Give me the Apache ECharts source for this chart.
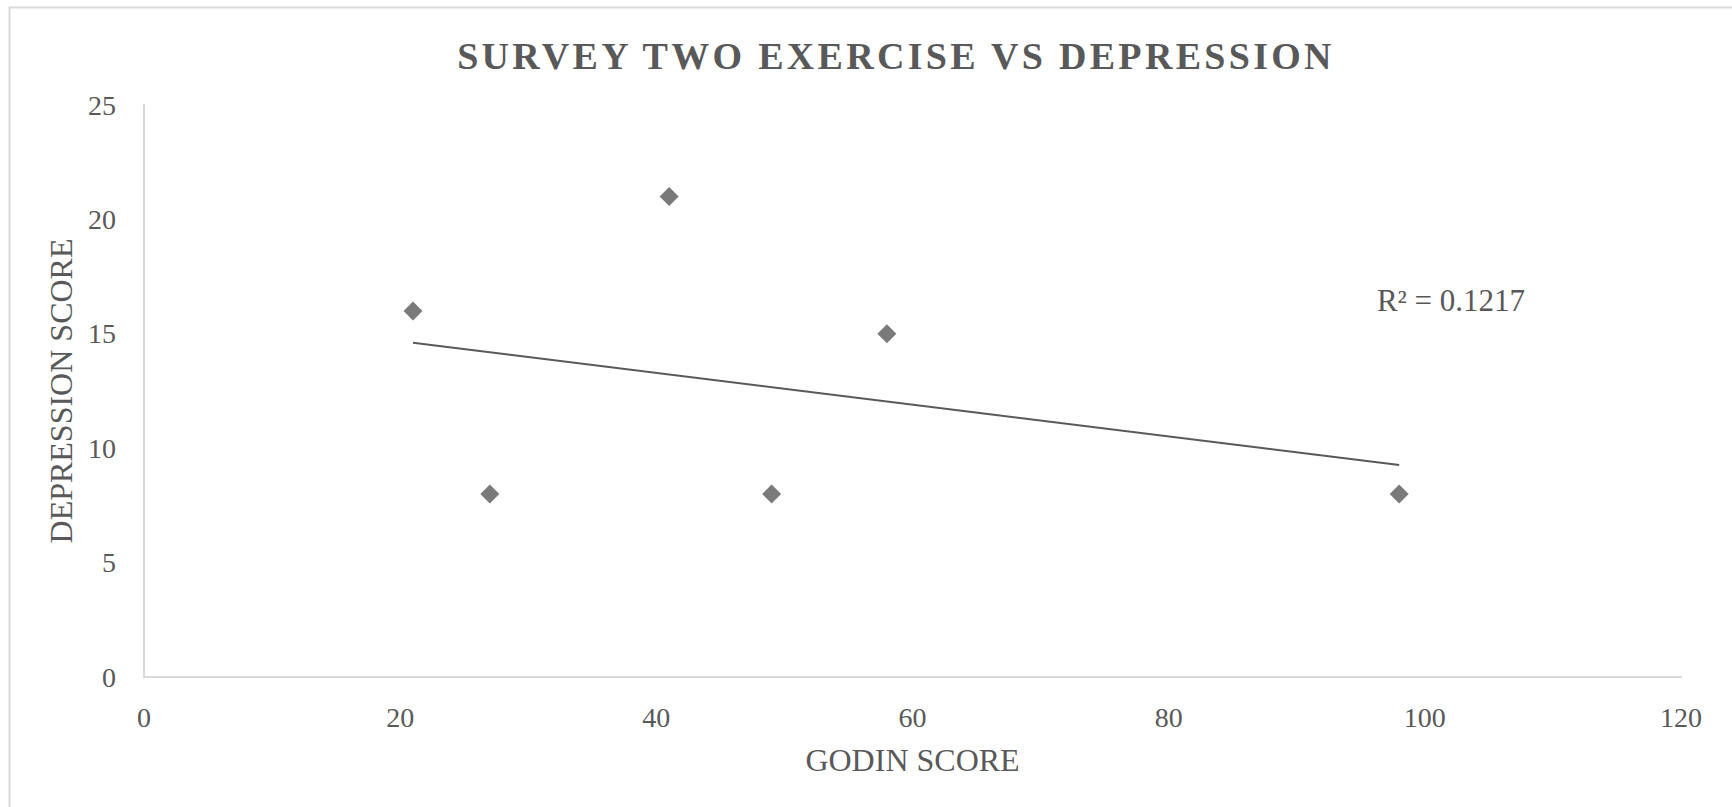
<!DOCTYPE html>
<html>
<head>
<meta charset="utf-8">
<script src="https://cdn.jsdelivr.net/npm/echarts@6/dist/echarts.min.js"></script>
<style>
  html, body { margin: 0; padding: 0; background: #ffffff; }
  #chart { width: 1732px; height: 807px; }
</style>
</head>
<body>
<div id="chart"></div>
<script>
const titleText = 'SURVEY TWO EXERCISE VS DEPRESSION';
const xAxisName = 'GODIN SCORE';
const yAxisName = 'DEPRESSION SCORE';
const godinScores = [21, 27, 41, 49, 58, 98];
const depressionScores = [16, 8, 21, 8, 15, 8];
const xTicks = { min: 0, max: 120, interval: 20 };
const yTicks = { min: 0, max: 25, interval: 5 };

// linear least-squares trendline computed from the data
const n = godinScores.length;
const mx = godinScores.reduce((a, b) => a + b, 0) / n;
const my = depressionScores.reduce((a, b) => a + b, 0) / n;
let sxx = 0, sxy = 0, syy = 0;
for (let i = 0; i < n; i++) {
  const dx = godinScores[i] - mx, dy = depressionScores[i] - my;
  sxx += dx * dx; sxy += dx * dy; syy += dy * dy;
}
const slope = sxy / sxx;
const intercept = my - slope * mx;
const r2 = (sxy * sxy) / (sxx * syy);
const xMin = Math.min(...godinScores), xMax = Math.max(...godinScores);
const trend = [[xMin, intercept + slope * xMin], [xMax, intercept + slope * xMax]];

const scatterData = godinScores.map((x, i) => [x, depressionScores[i]]);
const txt = '#595959';
const font = '"Liberation Serif", "Times New Roman", serif';

const chart = echarts.init(document.getElementById('chart'), null, { renderer: 'svg' });
chart.setOption({
  backgroundColor: '#ffffff',
  animation: false,
  title: {
    text: titleText,
    left: 891, top: 32, textAlign: 'center',
    textStyle: { fontFamily: font, fontSize: 38, fontWeight: 'bold', color: txt }
  },
  grid: { left: 144, right: 51, top: 105, bottom: 130 },
  xAxis: {
    type: 'value', min: xTicks.min, max: xTicks.max, interval: xTicks.interval,
    name: xAxisName, nameLocation: 'middle', nameGap: 67,
    nameTextStyle: { fontFamily: font, fontSize: 32, color: txt },
    axisLine: { show: true, lineStyle: { color: '#d9d9d9', width: 2 } },
    axisTick: { show: false },
    splitLine: { show: false },
    axisLabel: { fontFamily: font, fontSize: 28, color: txt, margin: 26 }
  },
  yAxis: {
    type: 'value', min: yTicks.min, max: yTicks.max, interval: yTicks.interval,
    name: yAxisName, nameLocation: 'middle', nameGap: 67,
    nameTextStyle: { fontFamily: font, fontSize: 32, color: txt },
    axisLine: { show: true, lineStyle: { color: '#d9d9d9', width: 2 } },
    axisTick: { show: false },
    splitLine: { show: false },
    axisLabel: { fontFamily: font, fontSize: 28, color: txt, margin: 28 }
  },
  series: [
    {
      type: 'line', data: trend, showSymbol: false, symbol: 'none',
      lineStyle: { color: '#595959', width: 2 }, silent: true, z: 2
    },
    {
      type: 'scatter', data: scatterData, symbol: 'diamond', symbolSize: 19,
      itemStyle: { color: '#595959' }, z: 3
    }
  ],
  graphic: [
    {
      type: 'rect', left: 7, top: 5, z: -1,
      shape: { width: 1760, height: 840 },
      style: { fill: 'none', stroke: '#d9d9d9', lineWidth: 2 }
    },
    {
      type: 'text', x: 1451, y: 300,
      style: {
        text: 'R² = ' + r2.toFixed(4), fontFamily: font, fontSize: 31, fill: txt,
        textAlign: 'center', textVerticalAlign: 'middle'
      }
    }
  ]
});

function spaceTitle() {
  document.querySelectorAll('#chart text').forEach(t => {
    if (t.textContent === titleText) {
      t.style.letterSpacing = '3.3px';
    }
  });
}
spaceTitle();
chart.on('finished', spaceTitle);
</script>
</body>
</html>
